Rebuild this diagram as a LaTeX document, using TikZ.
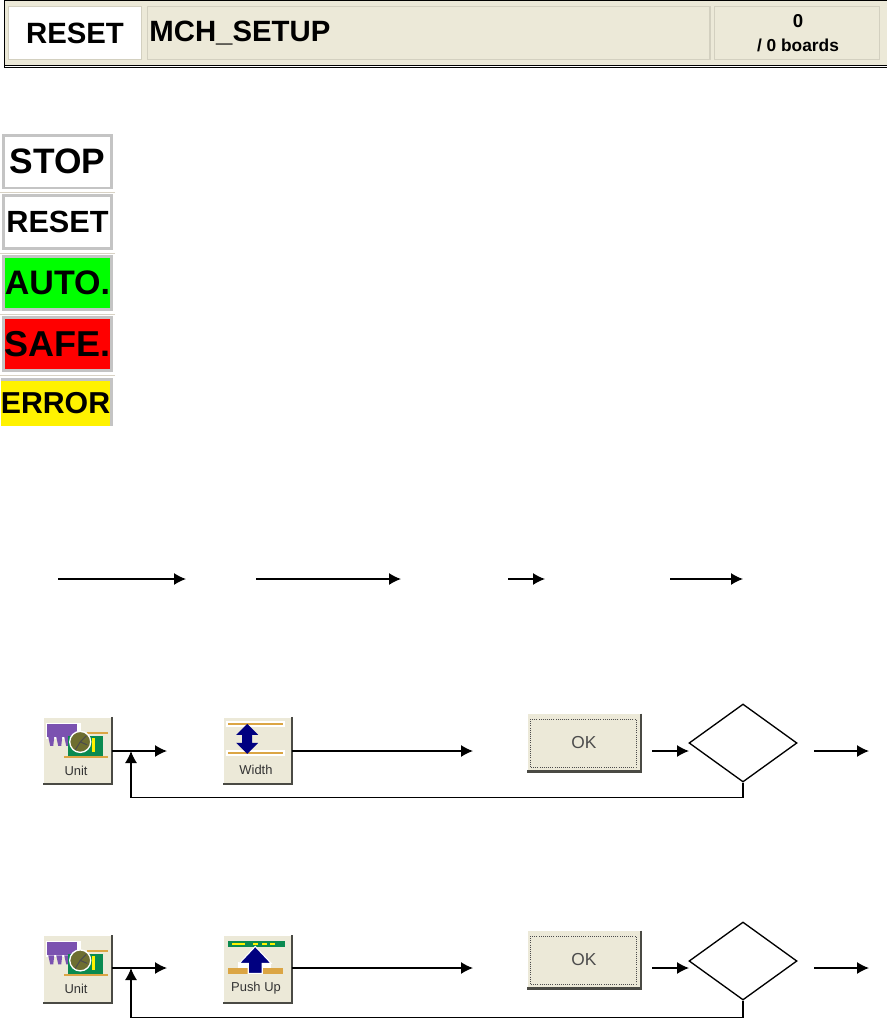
\documentclass[tikz,border=0pt]{standalone}
\usepackage{fontspec}
\setmainfont{Liberation Sans}
\usetikzlibrary{arrows.meta, positioning, shapes.geometric}
\definecolor{xpBeige}{HTML}{ECE9D8}
\definecolor{xpEdge}{HTML}{D3D0C0}
\definecolor{xpShade}{HTML}{4A4A44}
\definecolor{lampEdge}{HTML}{C4C4C4}
\definecolor{lampRule}{HTML}{D8D2C4}
\definecolor{unitPurple}{HTML}{7B52B0}
\definecolor{unitGreen}{HTML}{0A8A50}
\definecolor{unitOlive}{HTML}{6E6E30}
\definecolor{railOrange}{HTML}{DBA544}
\definecolor{arrowNavy}{HTML}{000080}
\newcommand{\bevel}[1]{%
  \draw[white, line width=1pt] (#1.south west) -- (#1.north west) -- (#1.north east);
  \draw[xpShade, line width=1.6pt] (#1.north east) -- (#1.south east) -- (#1.south west);}
\tikzset{
  lamp/.style={rectangle, draw=lampEdge, line width=2pt, inner sep=0pt, text=black,
               minimum width=81pt, minimum height=39.5pt, font=\bfseries\fontsize{26.5}{26.5}\selectfont},
  lamprule/.style={lampRule, line width=0.6pt},
  barcell/.style={rectangle, draw=xpEdge, line width=1pt, fill=xpBeige, inner sep=0pt},
  barfont/.style={font=\bfseries\fontsize{22}{22}\selectfont},
  toolbtn/.style={rectangle, fill=xpBeige, inner sep=0pt, minimum width=51pt, minimum height=50pt},
  toolfont/.style={font=\fontsize{9.7}{10}\selectfont, text=black!80, inner sep=0pt},
  okbtn/.style={rectangle, fill=xpBeige, inner sep=0pt, minimum width=85pt, minimum height=43pt,
                font=\fontsize{13}{13}\selectfont, text=black!70},
  decision/.style={diamond, draw=black, line width=1pt, aspect=1.385, inner sep=0pt,
                   minimum width=81pt, minimum height=58.5pt},
  flow/.style={draw=black, line width=1pt, -{Latex[length=9pt,width=9pt]}},
  unitglyph/.pic={
    \fill[white] (3,6) rectangle (38,22);
    \fill[unitPurple] (4,7) rectangle (34,20);
    \foreach \tx in {5,13,21} {\fill[unitPurple] (\tx,20) -- ++(6,0) -- ++(-1,9) -- ++(-3,0) -- cycle;}
    \fill[unitGreen] (25,19) rectangle (60,40);
    \fill[yellow] (49,21) rectangle (52,35);
    \fill[railOrange] (44,15) rectangle (65,17);
    \fill[railOrange] (21,39) rectangle (65,41);
    \draw[white, fill=unitOlive, line width=1pt] (37,25) circle[radius=10.5];
    \draw[black!70, line width=0.8pt] (37,25) -- (43,19) (37,25) -- (44,28) (37,25) -- (32,33);
  },
  widthglyph/.pic={
    \fill[white] (3,4) rectangle (62,10);
    \fill[white] (3,33) rectangle (62,39);
    \fill[railOrange] (5,6) rectangle (60,8);
    \fill[railOrange] (5,35) rectangle (60,37);
    \fill[arrowNavy] (24,7) -- (35,18) -- (29,18) -- (29,26) -- (35,26) -- (24,37)
      -- (13,26) -- (19,26) -- (19,18) -- (13,18) -- cycle;
  },
  pushglyph/.pic={
    \fill[unitGreen] (5,6) rectangle (62,12);
    \fill[yellow] (9,8) rectangle (22,10);
    \foreach \tx in {30,39,47} {\fill[yellow] (\tx,8) rectangle ++(5,2);}
    \fill[white] (15,27) rectangle (48,34);
    \fill[railOrange] (5,33) rectangle (60,39);
    \draw[white, fill=arrowNavy, line width=0.8pt] (32,11) -- (48,28) -- (39,28) -- (39,38)
      -- (25,38) -- (25,28) -- (16,28) -- cycle;
  },
}
\begin{document}
\begin{tikzpicture}[x=0.75pt, y=-0.75pt]
  \useasboundingbox (0,0) rectangle (887,1018);

  % status bar
  \fill[xpBeige] (4,0) rectangle (887,65);
  \draw[black, line width=0.75pt] (887,0.5) -- (4,0.5) -- (4,67.5) -- (887,67.5);
  \draw[black, line width=0.75pt] (4,65) -- (887,65);
  \node[rectangle, draw=xpEdge, line width=1pt, fill=white, inner sep=0pt, minimum width=100pt, minimum height=40pt, barfont]
    (barstate) at (75,33) {RESET};
  \node[barcell, minimum width=422pt, minimum height=40pt] (barname) at (428.5,33) {};
  \node[barfont, right=2pt of barname.west, inner sep=0pt] (bartext) {MCH\_SETUP};
  \node[barcell, minimum width=124pt, minimum height=40pt] (barcount) at (797,33) {};
  \node[font=\bfseries\fontsize{14}{14}\selectfont, inner sep=0pt] (barzero) at (798,21) {0};
  \node[font=\bfseries\fontsize{13}{13}\selectfont, inner sep=0pt] (barboards) at (798,45) {/ 0 boards};

  % state lamps
  \node[lamp, fill=white] (lampstop) at (57.5,161.5) {STOP};
  \node[lamp, fill=white, font=\bfseries\fontsize{23}{23}\selectfont] (lampreset) at (57.5,222) {RESET};
  \node[lamp, fill=green, font=\bfseries\fontsize{25.5}{25.5}\selectfont] (lampauto) at (57.5,283) {\raisebox{-2pt}{AUTO.}};
  \node[lamp, fill=red, font=\bfseries\fontsize{27}{27}\selectfont] (lampsafe) at (57.5,344) {SAFE.};
  \fill[lampEdge] (1,378) rectangle (113,426);
  \node[rectangle, fill=yellow, inner sep=0pt, minimum width=80.5pt, minimum height=33.5pt,
        font=\bfseries\fontsize{22.7}{22.7}\selectfont] (lamperror) at (55.5,403.5) {ERROR};
  \draw[lamprule] (0,192) -- (115,192);
  \draw[lamprule] (0,253) -- (115,253);
  \draw[lamprule] (0,314) -- (115,314);
  \draw[lamprule] (0,375) -- (115,375);

  % plain arrows
  \coordinate (a1) at (58,579);
  \coordinate (a2) at (186,579);
  \coordinate (a3) at (256,579);
  \coordinate (a4) at (401,579);
  \coordinate (a5) at (508,579);
  \coordinate (a6) at (545,579);
  \coordinate (a7) at (670,579);
  \coordinate (a8) at (743,579);
  \draw[flow] (a1) -- (a2);
  \draw[flow] (a3) -- (a4);
  \draw[flow] (a5) -- (a6);
  \draw[flow] (a7) -- (a8);

  % width sequence
  \node[toolbtn] (unita) at (77.5,750.5) {};
  \bevel{unita}
  \pic at (unita.north west) {unitglyph};
  \node[toolfont] (unitatext) at (76,771) {Unit};
  \node[toolbtn] (widthbtn) at (257.5,750.5) {};
  \bevel{widthbtn}
  \pic at (widthbtn.north west) {widthglyph};
  \node[toolfont] (widthtext) at (256,770) {Width};
  \node[okbtn] (oka) at (584,742.5) {OK};
  \bevel{oka}
  \draw[black!70, densely dotted, line width=0.6pt] (530,719) rectangle (636,767);
  \node[decision] (checka) at (743,743) {};
  \coordinate (ua) at (167,751);
  \coordinate (wa) at (473,751);
  \coordinate (ja) at (131,751);
  \coordinate (oa) at (652,751);
  \coordinate (ia) at (689,751);
  \coordinate (ra) at (814,751);
  \coordinate (ea) at (869,751);
  \draw[flow] (unita.east |- ua) -- (ua);
  \draw[flow] (widthbtn.east |- wa) -- (wa);
  \draw[flow] (oa) -- (ia);
  \draw[flow] (ra) -- (ea);
  \draw[flow] (checka.south) -- ++(0,15) -| (ja);

  % push up sequence
  \node[toolbtn] (unitb) at (77.5,969) {};
  \bevel{unitb}
  \pic at (unitb.north west) {unitglyph};
  \node[toolfont] (unitbtext) at (76,989) {Unit};
  \node[toolbtn] (pushbtn) at (257.5,969) {};
  \bevel{pushbtn}
  \pic at (pushbtn.north west) {pushglyph};
  \node[toolfont] (pushtext) at (256,988) {Push Up};
  \node[okbtn] (okb) at (584,959.5) {OK};
  \bevel{okb}
  \draw[black!70, densely dotted, line width=0.6pt] (530,936) rectangle (636,984);
  \node[decision] (checkb) at (743,961) {};
  \coordinate (ub) at (167,968);
  \coordinate (wb) at (473,968);
  \coordinate (jb) at (131,968);
  \coordinate (ob) at (652,968);
  \coordinate (ib) at (689,968);
  \coordinate (rb) at (814,968);
  \coordinate (eb) at (869,968);
  \draw[flow] (unitb.east |- ub) -- (ub);
  \draw[flow] (pushbtn.east |- wb) -- (wb);
  \draw[flow] (ob) -- (ib);
  \draw[flow] (rb) -- (eb);
  \draw[flow] (checkb.south) -- ++(0,17) -| (jb);
\end{tikzpicture}
\end{document}
